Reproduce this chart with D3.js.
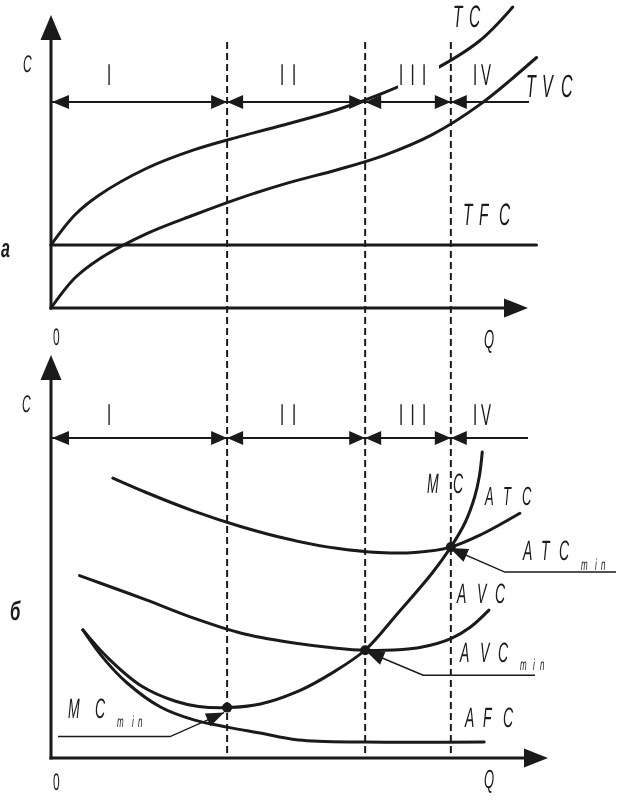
<!DOCTYPE html>
<html><head><meta charset="utf-8">
<script src="https://cdn.jsdelivr.net/npm/d3@7"></script>
<style>html,body{margin:0;padding:0;background:#fff} svg{display:block} text{text-rendering:geometricPrecision}</style>
</head><body>
<svg id="chart" width="622" height="804"></svg>
<script>
// ---------- DATA ----------
const boundaries = [37, 66, 84];          // Q at stage boundaries
const stageLabels = ["I", "II", "III", "IV"];

// panel а : total costs
const tfcQ = [0, 102];
const tfcC = [21, 21];
const tvcQ = [0, 5, 10, 20, 30, 40, 50, 60, 70, 80, 90, 102];
const tvcC = [0, 10, 16.2, 24.7, 31, 36.8, 41.8, 46, 50.9, 57.7, 67.7, 83.5];
const tcQ  = [0, 5, 10, 20, 30, 40, 50, 60, 70, 80, 90, 97];
const tcC  = [21, 31, 37.5, 46.5, 52.7, 57.3, 61.5, 66, 71.8, 79, 89, 100.3];

// panel б : average and marginal costs
const atcQ = [13, 20, 30, 40, 50, 60, 70, 77, 84, 90, 98.5];
const atcC = [93.3, 88.5, 82.3, 77.1, 72.9, 69.9, 68.4, 68.6, 70.3, 74.2, 81.6];
const avcQ = [6, 10, 20, 30, 40, 50, 60, 66, 72, 78, 84, 88, 92];
const avcC = [60.8, 58.5, 52.7, 46.6, 41.6, 38.6, 36.6, 35.9, 36, 37, 39.8, 43.5, 49.3];
const mcQ  = [6.7, 12, 19, 26, 31, 37, 44, 52, 59, 66, 73, 80, 84, 87, 89, 90, 90.6];
const mcC  = [42.7, 33.3, 24, 19, 17.2, 16.8, 18, 22.3, 28.3, 36, 48.5, 61.5, 70.3, 78.5, 87, 94, 102];
const afcQ = [6.7, 11, 16, 23, 30, 37, 44, 52, 66, 91];
const afcC = [42.7, 33.3, 25, 17, 12.7, 10.3, 8.3, 6, 5.3, 5.3];

const minPoints = [
  {name: "MC",  q: 37, c: 16.8},
  {name: "AVC", q: 66, c: 35.9},
  {name: "ATC", q: 84, c: 70.3}
];

// ---------- SCALES ----------
const svg = d3.select("#chart");
const x = d3.scaleLinear().domain([0, 100]).range([51, 527]);
const yTop = d3.scaleLinear().domain([0, 100]).range([308, 8]);
const yBot = d3.scaleLinear().domain([0, 100]).range([758, 458]);

const FONT = "'Liberation Sans', Arial, sans-serif";
const INK = "#1a1a1a";
const zip = (qs, cs) => qs.map((q, i) => [q, cs[i]]);

function curve(g, qs, cs, ys, w) {
  const line = d3.line().x(d => x(d[0])).y(d => ys(d[1]))
    .curve(d3.curveCatmullRom.alpha(0.5));
  g.append("path").attr("d", line(zip(qs, cs)))
    .attr("fill", "none").attr("stroke", INK)
    .attr("stroke-width", w || 3).attr("stroke-linecap", "round");
}

function arrowHead(g, tx, ty, dx, dy, len, hw) {
  const L = Math.hypot(dx, dy); const ux = dx / L, uy = dy / L;
  const bx = tx - ux * len, by = ty - uy * len;
  const px = -uy * hw, py = ux * hw;
  g.append("path").attr("d", `M${tx},${ty}L${bx + px},${by + py}L${bx - px},${by - py}Z`)
    .attr("fill", INK);
}

const textLayer = () => svg.append("g").attr("opacity", 0.995);
function chars(g, str, x0, y, offs, size, opts) {
  opts = opts || {};
  const sx = opts.sx || 0.5;
  [...str].forEach((ch, i) => {
    g.append("text")
      .attr("transform", `translate(${x0 + offs[i]},${y}) scale(${sx},1)`)
      .attr("font-family", FONT).attr("font-size", size)
      .attr("font-style", opts.upright ? "normal" : "italic")
      .attr("font-weight", opts.bold ? "bold" : "normal")
      .attr("fill", INK).text(ch);
  });
}

function axes(g, ys, yTip, xTip) {
  const x0 = x(0), y0 = ys(0);
  g.append("line").attr("x1", x0).attr("y1", y0 + 1.5).attr("x2", x0).attr("y2", yTip + 20)
    .attr("stroke", INK).attr("stroke-width", 3);
  arrowHead(g, x0, yTip, 0, -1, 25, 10.5);
  g.append("line").attr("x1", x0 - 1.5).attr("y1", y0).attr("x2", xTip - 20).attr("y2", y0)
    .attr("stroke", INK).attr("stroke-width", 3);
  arrowHead(g, xTip, y0, 1, 0, 24, 9.5);
}

function stageArrows(g, yy, xEnd) {
  g.append("line").attr("x1", x(0)).attr("y1", yy).attr("x2", xEnd).attr("y2", yy)
    .attr("stroke", INK).attr("stroke-width", 2);
  arrowHead(g, x(0) + 1, yy, -1, 0, 17, 7);
  boundaries.forEach(b => {
    arrowHead(g, x(b), yy, 1, 0, 16, 7);
    arrowHead(g, x(b), yy, -1, 0, 16, 7);
  });
}

function stageText(g, yBase) {
  const pos = [[107, [0]], [280, [0, 12]], [399, [0, 11.5, 23]], [473, [0, 8]]];
  stageLabels.forEach((s, i) => chars(g, s, pos[i][0], yBase, pos[i][1], 30, {sx: 0.5, upright: true}));
}

// ---------- PANEL а ----------
const gA = svg.append("g");
curve(gA, tfcQ, tfcC, yTop, 3);
curve(gA, tvcQ, tvcC, yTop, 3);
curve(gA, tcQ, tcC, yTop, 3);
axes(gA, yTop, 15, 528);
// knock-out behind III
gA.append("rect").attr("x", 398).attr("y", 58).attr("width", 41).attr("height", 34).attr("fill", "#fff");
stageArrows(gA, 102, 529);
const tA = textLayer();
stageText(tA, 85);
chars(tA, "C", 23, 72, [0], 24);
chars(tA, "TC", 453, 27, [0, 16], 31);
chars(tA, "TVC", 526, 97, [0, 16, 35], 32);
chars(tA, "TFC", 463, 225, [0, 16, 36], 31);
chars(tA, "а", 1, 257, [0], 26, {bold: true, sx: 0.62});
chars(tA, "0", 53, 345, [0], 24, {upright: true});
chars(tA, "Q", 484, 348, [0], 26);

// ---------- DASHED BOUNDARIES ----------
svg.append("g").selectAll("line").data(boundaries).join("line")
  .attr("x1", d => x(d)).attr("x2", d => x(d)).attr("y1", 42).attr("y2", 757)
  .attr("stroke", INK).attr("stroke-width", 2).attr("stroke-dasharray", "7,4");

// ---------- PANEL б ----------
const gB = svg.append("g");
curve(gB, atcQ, atcC, yBot, 3);
curve(gB, avcQ, avcC, yBot, 3);
curve(gB, afcQ, afcC, yBot, 3);
curve(gB, mcQ, mcC, yBot, 3);
axes(gB, yBot, 355, 548);
stageArrows(gB, 438, 528);

gB.selectAll("circle.min").data(minPoints).join("circle")
  .attr("cx", d => x(d.q)).attr("cy", d => yBot(d.c)).attr("r", 5).attr("fill", INK);

// leaders
function leader(g, tx, ty, ex, ey, xEnd) {
  g.append("path").attr("d", `M${tx},${ty}L${ex},${ey}L${xEnd},${ey}`)
    .attr("fill", "none").attr("stroke", INK).attr("stroke-width", 1.5);
  arrowHead(g, tx, ty, tx - ex, ty - ey, 18, 7);
}
const pMC = minPoints[0], pAVC = minPoints[1], pATC = minPoints[2];
leader(gB, x(pATC.q) - 1, yBot(pATC.c) + 1, x(pATC.q) + 54, yBot(pATC.c) + 25, 616);
leader(gB, x(pAVC.q) + 1, yBot(pAVC.c) + 1, x(pAVC.q) + 58, yBot(pAVC.c) + 25, 535);
leader(gB, x(pMC.q) - 3, yBot(pMC.c) + 5, x(pMC.q) - 57, yBot(pMC.c) + 29, 58);

const tB = textLayer();
stageText(tB, 425);
chars(tB, "C", 22, 412, [0], 24);
chars(tB, "б", 10, 620, [0], 27, {bold: true, sx: 0.62});
chars(tB, "0", 53, 790, [0], 24, {upright: true});
chars(tB, "Q", 484, 788, [0], 26);
chars(tB, "MC", 427, 493, [0, 26], 28);
chars(tB, "ATC", 485, 505, [0, 18, 37], 26);
chars(tB, "ATC", 523, 560, [0, 18, 36], 28);
chars(tB, "min", 581, 570, [0, 14, 20], 16);
chars(tB, "AVC", 457, 603, [0, 20, 38], 28);
chars(tB, "AVC", 460, 662, [0, 20, 38], 28);
chars(tB, "min", 520, 670, [0, 13, 20], 16);
chars(tB, "AFC", 465, 727, [0, 18, 38], 28);
chars(tB, "MC", 68, 718, [0, 27], 28);
chars(tB, "min", 117, 727, [0, 15, 21], 16);
</script>
</body></html>
